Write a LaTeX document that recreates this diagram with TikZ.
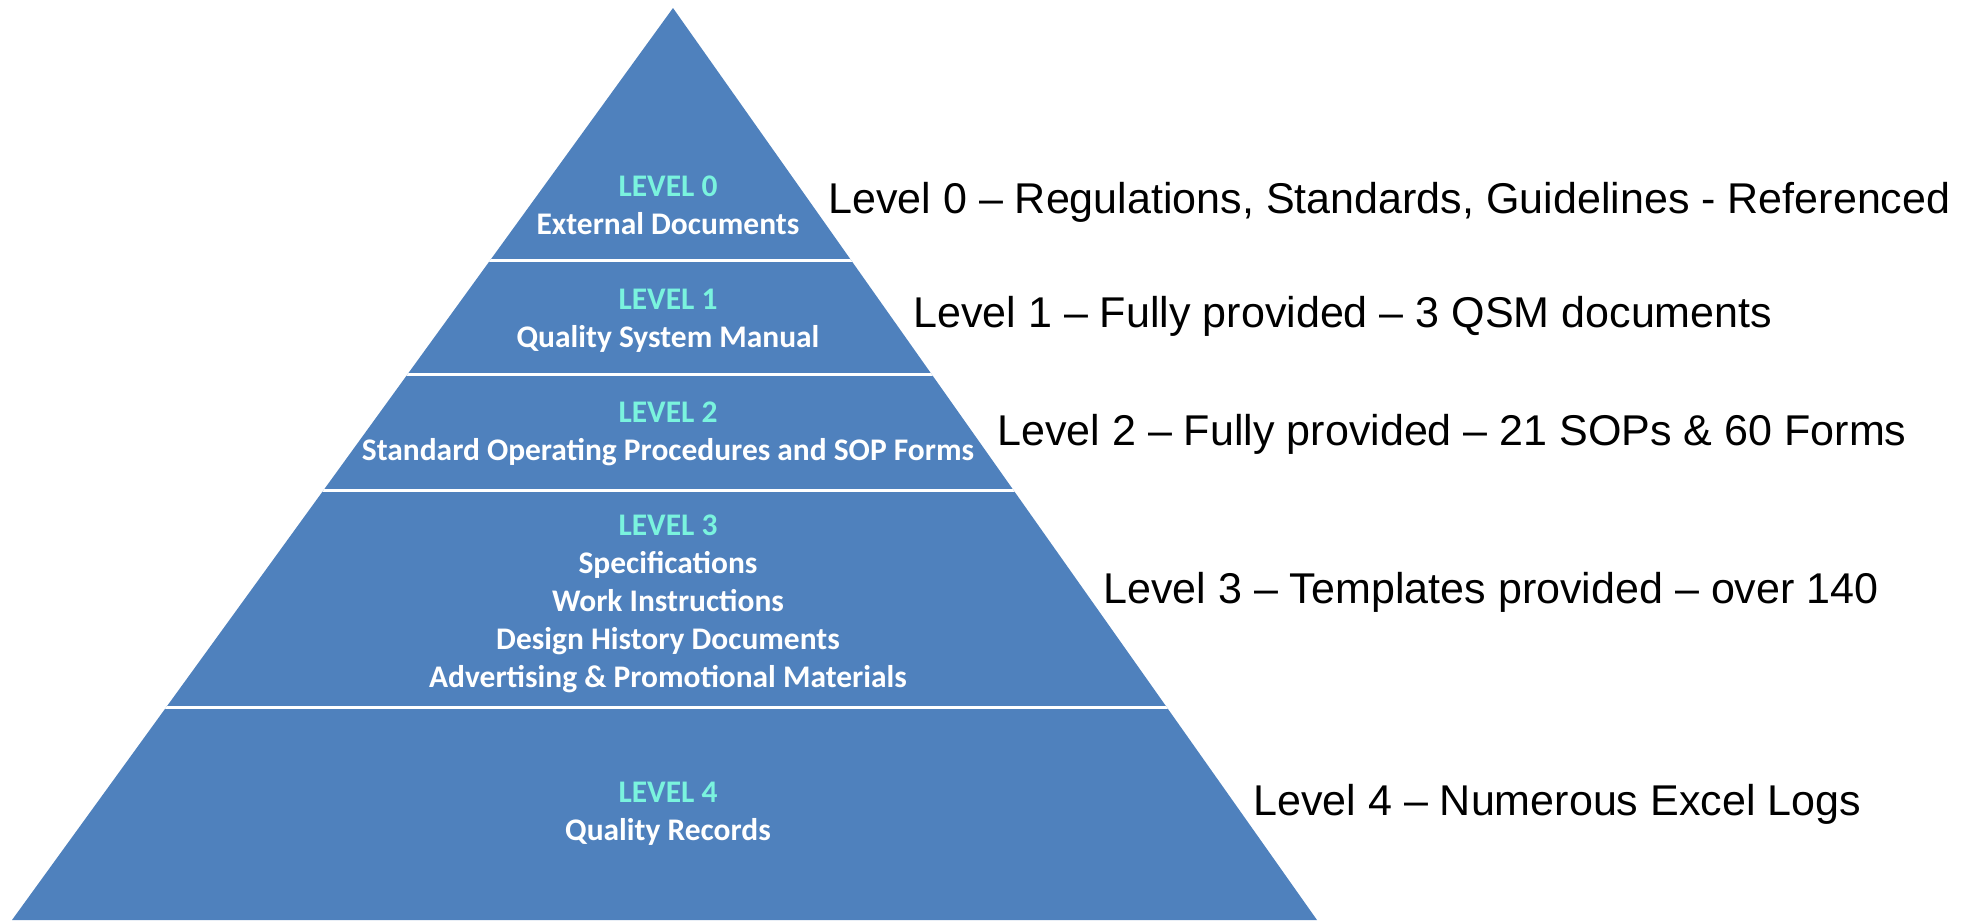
\documentclass[tikz,border=0pt]{standalone}
\usepackage{fontspec}
\setmainfont{Liberation Sans}
\newfontfamily\pyrfont{Carlito}
\usepackage{xcolor}
\usepackage{tikz}
\definecolor{pyrblue}{RGB}{79,129,189}
\definecolor{levelcyan}{RGB}{122,243,222}
\newcommand{\levelname}[1]{\textcolor{levelcyan}{#1}}
\tikzstyle{node:level}=[align=center, anchor=base, inner sep=0pt, text=white, font=\pyrfont\bfseries\fontsize{17.9}{21.6}\selectfont]
\tikzstyle{node:note}=[anchor=base west, inner sep=0pt, text=black, font=\fontsize{24.5}{29}\selectfont]
\tikzstyle{draw:separator}=[white, line width=1.7pt]

\begin{document}
\begin{tikzpicture}[x=0.02cm, y=-0.02cm]
        \useasboundingbox (0,0) rectangle (1970,920);

        % Pyramid
        \coordinate (apex) at (673,8);
        \coordinate (base_l) at (12,920);
        \coordinate (base_r) at (1317,920);
        \fill[pyrblue] (apex) -- (base_l) -- (base_r) -- cycle;

        % Separators between levels
        \begin{scope}
            \clip (apex) -- (base_l) -- (base_r) -- cycle;
            \foreach \y in {260,374,490,707}
                \draw[draw:separator] (0,\y) -- (1400,\y);
        \end{scope}

        % Levels (anchored at the baseline of the last line)
        \node[node:level] (lvl0) at (668,234) {\levelname{LEVEL 0}\\External Documents};
        \node[node:level] (lvl1) at (668,347) {\levelname{LEVEL 1}\\Quality System Manual};
        \node[node:level] (lvl2) at (668,460) {\levelname{LEVEL 2}\\Standard Operating Procedures and SOP Forms};
        \node[node:level] (lvl3) at (668,687) {\levelname{LEVEL 3}\\Specifications\\Work Instructions\\Design History Documents\\Advertising \& Promotional Materials};
        \node[node:level] (lvl4) at (668,840) {\levelname{LEVEL 4}\\Quality Records};

        % Notes
        \node[node:note] (note0) at (828,213) {Level 0 – Regulations, Standards, Guidelines - Referenced};
        \node[node:note] (note1) at (913,327) {Level 1 – Fully provided – 3 QSM documents};
        \node[node:note] (note2) at (997,445) {Level 2 – Fully provided – 21 SOPs \& 60 Forms};
        \node[node:note] (note3) at (1103,603) {Level 3 – Templates provided – over 140};
        \node[node:note] (note4) at (1253,815) {Level 4 – Numerous Excel Logs};

    \end{tikzpicture}
\end{document}
